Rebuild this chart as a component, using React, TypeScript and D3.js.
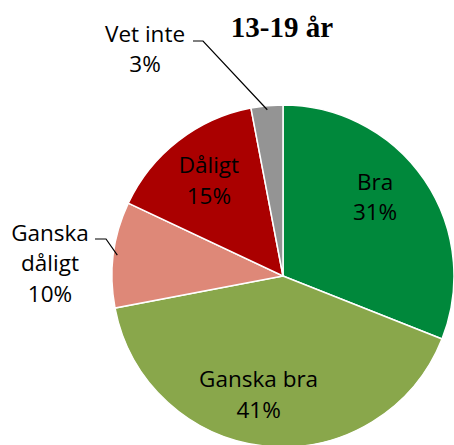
import * as d3 from "d3";
import { useEffect, useRef } from "react";

// answers, clockwise from 12 o'clock
const categories = ["Bra", "Ganska bra", "Ganska dåligt", "Dåligt", "Vet inte"];
const values = [31, 41, 10, 15, 3];
const colors = ["#00883b", "#89a74b", "#de8878", "#aa0000", "#949494"];
const title = "13-19 år";

const App = () => {
  const ref = useRef<SVGSVGElement>(null);

  useEffect(() => {
    const width = 454,
      height = 445,
      radius = 171;
    const cx = 283,
      cy = 276;

    const svg = d3.select(ref.current);
    svg.selectAll("*").remove();

    const data = categories.map((c, i) => ({ name: c, value: values[i], color: colors[i] }));
    const pie = d3.pie<any>().sort(null).value((d) => d.value);
    const arcs = pie(data);
    const arc = d3.arc<any>().innerRadius(0).outerRadius(radius);

    const g = svg.append("g").attr("transform", `translate(${cx},${cy})`);

    g.selectAll("path")
      .data(arcs)
      .join("path")
      .attr("d", arc)
      .attr("fill", (d) => d.data.color)
      .attr("stroke", "#fff")
      .attr("stroke-width", 1.5);

    // label placement: inside labels on an inner arc, small nudges like excel's best fit
    const labelArc = d3.arc<any>().innerRadius(121).outerRadius(121);
    const nudge: Record<string, [number, number]> = {
      Bra: [-8, -11],
      "Ganska bra": [-13, -2],
      Dåligt: [0, 0],
    };
    const outside: Record<string, [number, number]> = {
      "Ganska dåligt": [50 - cx, 263 - cy],
      "Vet inte": [145 - cx, 49 - cy],
    };

    const fmt = (v: number) => `${v}%`;
    const lineH = 30.5;

    arcs.forEach((a) => {
      const name = a.data.name;
      let x: number, y: number;
      if (outside[name]) {
        [x, y] = outside[name];
      } else {
        const [px, py] = labelArc.centroid(a);
        const n = nudge[name] || [0, 0];
        x = px + n[0];
        y = py + n[1];
      }
      const lines = name === "Ganska dåligt" ? ["Ganska", "dåligt", fmt(a.data.value)] : [name, fmt(a.data.value)];
      const t = g
        .append("text")
        .attr("text-anchor", "middle")
        .attr("font-family", "'Open Sans', sans-serif")
        .attr("font-size", 22.5)
        .attr("fill", "#000");
      lines.forEach((l, i) => {
        t.append("tspan")
          .attr("x", x)
          .attr("y", y + (i - (lines.length - 1) / 2) * lineH)
          .attr("dy", "0.36em")
          .text(l);
      });
    });

    // leader lines to the small outside slices
    const leader = d3.line();
    const toSlice = (name: string, pts: [number, number][]) => {
      const a = arcs.find((d) => d.data.name === name)!;
      const mid = (a.startAngle + a.endAngle) / 2;
      const end: [number, number] = [Math.sin(mid) * (radius - 4), -Math.cos(mid) * (radius - 4)];
      g.append("path")
        .attr("d", leader([...pts, end]))
        .attr("fill", "none")
        .attr("stroke", "#000")
        .attr("stroke-width", 1.2);
    };
    toSlice("Vet inte", [
      [193 - cx, 41 - cy],
      [203 - cx, 41 - cy],
    ]);
    toSlice("Ganska dåligt", [
      [95 - cx, 239 - cy],
      [106 - cx, 239 - cy],
    ]);

    svg
      .append("text")
      .attr("x", 282)
      .attr("y", 37)
      .attr("text-anchor", "middle")
      .attr("font-family", "'Liberation Serif', 'Times New Roman', serif")
      .attr("font-weight", "bold")
      .attr("font-size", 29)
      .text(title);

    svg.attr("width", width).attr("height", height);
  }, []);

  return <svg ref={ref} width={454} height={445} style={{ position: "absolute", left: 0, top: 0 }} />;
};

export default App;
